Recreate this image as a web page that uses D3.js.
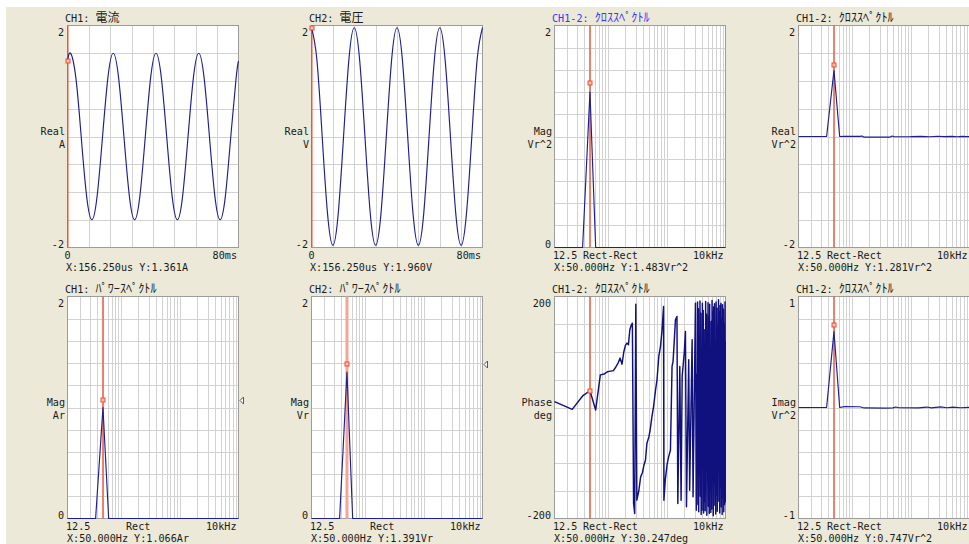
<!DOCTYPE html>
<html>
<head>
<meta charset="utf-8" />
<title>FFT 解析</title>
<script src="https://d3js.org/d3.v7.min.js"></script>
<style>
  body { margin: 0; background: #ece9d8; }
  svg text { font-family: "DejaVu Sans Mono", "Noto Sans CJK JP", monospace; font-size: 11px; fill: #1a1a1a; }
</style>
</head>
<body>
<svg id="screen" width="969" height="544"></svg>
<script>
// ---- data ----
// time traces: [ms, value]
var ch1Current = [[0,1.36],[1.4,1.5],[3.9,1.06],[6.4,0],[8.9,-1.06],[11.4,-1.5],[13.9,-1.06],[16.4,0],[18.9,1.06],
  [21.4,1.5],[23.9,1.06],[26.4,0],[28.9,-1.06],[31.4,-1.5],[33.9,-1.06],[36.4,0],[38.9,1.06],
  [41.4,1.5],[43.9,1.06],[46.4,0],[48.9,-1.06],[51.4,-1.5],[53.9,-1.06],[56.4,0],[58.9,1.06],
  [61.4,1.5],[63.9,1.06],[66.4,0],[68.9,-1.06],[71.4,-1.5],[73.9,-1.06],[76.4,0],[78.9,1.06],[80,1.36]];
var ch2Voltage = [[0,1.96],[2.5,1.39],[5,0],[7.5,-1.39],[10,-1.96],[12.5,-1.39],[15,0],[17.5,1.39],
  [20,1.96],[22.5,1.39],[25,0],[27.5,-1.39],[30,-1.96],[32.5,-1.39],[35,0],[37.5,1.39],
  [40,1.96],[42.5,1.39],[45,0],[47.5,-1.39],[50,-1.96],[52.5,-1.39],[55,0],[57.5,1.39],
  [60,1.96],[62.5,1.39],[65,0],[67.5,-1.39],[70,-1.96],[72.5,-1.39],[75,0],[77.5,1.39],[80,1.96]];

// spectra: [bin, value], bin width 12.5 Hz
var binWidth = 12.5;
var crossMag = [[1,0],[2,0],[3,0],[4,1.40],[5,0],[6,0],[800,0]];
var crossReal = [[1,0],[2,0],[3,0],[4,1.19],[5,0],[6,0.002],[11,0.003],[12,0.01],[13,-0.012],[20,-0.01],[30,-0.012],
  [36,-0.011],[39,0.008],[42,-0.004],[80,-0.003],[120,0.003],[170,-0.004],[230,0.004],[300,-0.003],[400,0.003],
  [500,-0.004],[600,0.002],[700,-0.003],[800,-0.002]];
var crossImag = [[1,0],[2,0],[3,0],[4,0.684],[5,0],[6,0.008],[11,0.007],[13,-0.004],[30,-0.005],[40,-0.003],
  [45,0.004],[50,-0.002],[110,-0.004],[150,0.004],[180,-0.003],[260,0.005],[330,-0.002],[420,0.003],[560,-0.002],[800,0.001]];
var ch1Power = [[1,0],[2,0],[3,0],[4,1.0],[5,0],[6,0],[800,0]];
var ch2Power = [[1,0],[2,0],[3,0],[4,1.32],[5,0],[6,0],[800,0]];
var crossPhase = [
  [1,10.5],[2,-3.3],[3,20.8],[4,30.2],[5,-4.5],[6,58.7],[7,60.5],[8,64.6],[9,65.5],[10,66.4],
  [11,73],[12,80],[13,89],[14,78],[15,100],[16,112],[17,116],[18,113],[19,140],[20,148],[21,152],
  [22,-173],[23,-191],[24,186],[25,-167],[27,-150],[29,-125],[31,-118],[33,-104],[35,-95],[37,-65],
  [40,-53],[42,-41],[45,-17],[48,1],[52,32],[55,50],[59,92],[63,110],[67,140],[71,182],
  [72,-167],[76,-130],[82,-101],[87,-88],[93,-77],[99,74],[103,83],[108,120],[113,158],[120,164],[124,-173],
  [134,74],[141,-167],[147,56],[160,100],[167,137],[174,-179],[190,86],[197,-149],[217,122],[225,-161],
  [247,188],[256,-185],
  [260,60],[264,-175],[268,190],[272,-40],[277,178],[281,-188],[286,30],[290,-120],[295,192],[300,-160],
  [304,170],[309,-193],[314,-20],[319,-185],[324,188],[329,-70],[335,175],[340,-190],[345,110],[351,-170],
  [356,140],[362,-186],[368,191],[374,-55],[380,168],[386,-194],[392,90],[398,-130],[404,189],[411,-178],
  [417,162],[424,-191],[431,186],[437,-148],[444,40],[451,-189],[459,155],[466,-183],[473,193],[481,-66],
  [488,172],[496,-195],[504,181],[512,-138],[520,187],[528,-176],[537,65],[545,-192],[554,190],[563,-158],
  [572,179],[581,-187],[590,146],[600,-81],[609,194],[619,-169],[629,171],[639,-190],[649,184],[659,-144],
  [670,188],[680,-179],[691,160],[702,-193],[713,185],[725,-162],[736,177],[748,-188],[760,150],[772,-175],
  [785,190],[797,-170],[800,120]];

// log grid lines (Hz)
var logGrid = [20,30,40,50,60,70,80,90,100,200,300,400,500,600,700,800,900,1000,2000,3000,4000,5000,6000,7000,8000,9000];
var timeGridMs = [10,20,30,40,50,60,70];

// cursor readings
var cursorTimeMs = 0.15625;
var cursorBin = 4;
var markerValues = [1.361, 1.960, 1.483, 1.281, 1.066, 1.391, 30.247, 0.747];
var readouts = ["X:156.250us Y:1.361A", "X:156.250us Y:1.960V", "X:50.000Hz Y:1.483Vr^2", "X:50.000Hz Y:1.281Vr^2",
  "X:50.000Hz Y:1.066Ar", "X:50.000Hz Y:1.391Vr", "X:50.000Hz Y:30.247deg", "X:50.000Hz Y:0.747Vr^2"];
var titleHeads = ["CH1:", "CH2:", "CH1-2:", "CH1-2:", "CH1:", "CH2:", "CH1-2:", "CH1-2:"];
var titleTails = ["電流", "電圧", "ｸﾛｽｽﾍﾟｸﾄﾙ", "ｸﾛｽｽﾍﾟｸﾄﾙ", "ﾊﾟﾜｰｽﾍﾟｸﾄﾙ", "ﾊﾟﾜｰｽﾍﾟｸﾄﾙ", "ｸﾛｽｽﾍﾟｸﾄﾙ", "ｸﾛｽｽﾍﾟｸﾄﾙ"];
var yNames = [["Real","A"], ["Real","V"], ["Mag","Vr^2"], ["Real","Vr^2"], ["Mag","Ar"], ["Mag","Vr"], ["Phase","deg"], ["Imag","Vr^2"]];
var yDomains = [[-2,2], [-2,2], [0,2], [-2,2], [0,2], [0,2], [-200,200], [-1,1]];
var yDivs = [8, 8, 10, 8, 10, 10, 8, 10];
var windowNames = ["", "", "Rect-Rect", "Rect-Rect", "Rect", "Rect", "Rect-Rect", "Rect-Rect"];
var series = [ch1Current, ch2Voltage, crossMag, crossReal, ch1Power, ch2Power, crossPhase, crossImag];

// ---- layout ----
var colLeft = [67, 311, 554, 798];
var rowTop = [25, 296];
var plotW = 171, plotH = 222;

var svg = d3.select("#screen");
svg.append("rect").attr("width", 969).attr("height", 544).attr("fill", "#ece9d8");
svg.append("rect").attr("width", 969).attr("height", 7).attr("fill", "#ffffff");
svg.append("rect").attr("width", 6).attr("height", 544).attr("fill", "#ffffff");

function textWidth(s) {
  var w = 0;
  for (var ch of s) {
    var c = ch.codePointAt(0);
    w += (c >= 0x2e80 && !(c >= 0xff61 && c <= 0xff9f)) ? 12 : 6.1;
  }
  return w;
}

function label(x, y, s, anchor, color, size) {
  var t = svg.append("text")
    .attr("x", x).attr("y", y)
    .attr("text-anchor", anchor || "start")
    .attr("textLength", textWidth(s))
    .attr("lengthAdjust", "spacingAndGlyphs")
    .style("fill", color || "#1a1a1a")
    .text(s);
  if (size) t.style("font-size", size + "px");
  return t;
}

for (var i = 0; i < 8; i++) {
  var L = colLeft[i % 4], T = rowTop[Math.floor(i / 4)];
  var R = L + plotW, B = T + plotH;
  var isTime = i < 2;

  var x = isTime
    ? d3.scaleLinear().domain([0, 80]).range([L + 0.5, R + 0.5])
    : d3.scaleLog().domain([binWidth, 10000]).range([L + 0.5, R + 0.5]);
  var y = d3.scaleLinear().domain(yDomains[i]).range([B + 0.5, T + 0.5]);
  var xOf = isTime ? function (d) { return x(d[0]); } : function (d) { return x(d[0] * binWidth); };

  svg.append("rect").attr("x", L + 0.5).attr("y", T + 0.5).attr("width", plotW).attr("height", plotH)
    .attr("fill", "#ffffff");

  var g = svg.append("g");
  var vLines = isTime ? timeGridMs : logGrid;
  g.selectAll("line.v").data(vLines).enter().append("line")
    .attr("x1", function (d) { return Math.round(x(d)) + 0.5; })
    .attr("x2", function (d) { return Math.round(x(d)) + 0.5; })
    .attr("y1", T + 0.5).attr("y2", B + 0.5)
    .attr("stroke", "#d2d2d2").attr("stroke-width", 1);
  var dom = yDomains[i], step = (dom[1] - dom[0]) / yDivs[i];
  var hLines = d3.range(1, yDivs[i]).map(function (k) { return dom[0] + k * step; });
  g.selectAll("line.h").data(hLines).enter().append("line")
    .attr("y1", function (d) { return Math.round(y(d)) + 0.5; })
    .attr("y2", function (d) { return Math.round(y(d)) + 0.5; })
    .attr("x1", L + 0.5).attr("x2", R + 0.5)
    .attr("stroke", "#d2d2d2").attr("stroke-width", 1);

  svg.append("rect").attr("x", L + 0.5).attr("y", T + 0.5).attr("width", plotW).attr("height", plotH)
    .attr("fill", "none").attr("stroke", "#9c9c9c");

  var clipId = "clip" + i;
  svg.append("clipPath").attr("id", clipId).append("rect")
    .attr("x", L).attr("y", T).attr("width", plotW + 1).attr("height", plotH + 1);

  // cursor line
  var cx = isTime ? x(cursorTimeMs) : x(cursorBin * binWidth);
  var wide = (i === 5);
  svg.append("line").attr("x1", cx).attr("x2", cx).attr("y1", T + 0.5).attr("y2", B + 0.5)
    .attr("stroke", wide ? "#f6a593" : "#f04a2c").attr("stroke-width", wide ? 3 : 1.3)
    .attr("clip-path", "url(#" + clipId + ")");

  var line = d3.line().x(xOf).y(function (d) { return y(d[1]); });
  if (isTime) line.curve(d3.curveNatural);
  svg.append("path").datum(series[i]).attr("d", line)
    .attr("fill", "none").attr("stroke", i === 6 ? "#10107e" : "#1e1e8e")
    .attr("stroke-width", i === 6 ? 1.45 : 1.15)
    .attr("stroke-linejoin", "round")
    .attr("clip-path", "url(#" + clipId + ")");

  // cursor marker
  var my = y(markerValues[i]);
  svg.append("rect").attr("x", Math.round(cx) - 2).attr("y", Math.round(my) - 2).attr("width", 4).attr("height", 4)
    .attr("fill", "#ffc2b4").attr("stroke", "#f04a2c").attr("stroke-width", 1);

  // level marker on power spectra
  if (i === 4 || i === 5) {
    var ly = Math.round(my) + 0.5;
    svg.append("path")
      .attr("d", "M" + (R + 5.5) + "," + (ly - 3.5) + "L" + (R + 2) + "," + ly + "L" + (R + 5.5) + "," + (ly + 3.5) + "Z")
      .attr("fill", "#ffffff").attr("stroke", "#555555").attr("stroke-width", 1);
  }

  // texts
  var titleColor = i === 2 ? "#3838f0" : "#1a1a1a";
  label(L - 2, T - 3, titleHeads[i], "start", titleColor);
  label(L - 2 + textWidth(titleHeads[i]) + 6.1, T - 3, titleTails[i], "start", titleColor, 12.5);
  label(L - 3, y(dom[1]) + 10.5, String(dom[1]), "end");
  label(L - 3, y(dom[0]) + 0.5, String(dom[0]), "end");
  var mid = (T + B) / 2;
  label(L - 2, mid - 1, yNames[i][0], "end");
  label(L - 2, mid + 11.5, yNames[i][1], "end");
  if (isTime) {
    label(x(0), B + 12, "0", "middle");
    label(R - 1, B + 12, "80ms", "end");
    label(L - 1, B + 23.5, readouts[i], "start");
  } else {
    label(L - 1, B + 12, "12.5", "start");
    label(windowNames[i] === "Rect" ? L + 59 : L + 29, B + 12, windowNames[i], "start");
    label(R - 1.5, B + 12, "10kHz", "end");
    label(L, B + 23.5, readouts[i], "start");
  }
}
</script>
</body>
</html>
